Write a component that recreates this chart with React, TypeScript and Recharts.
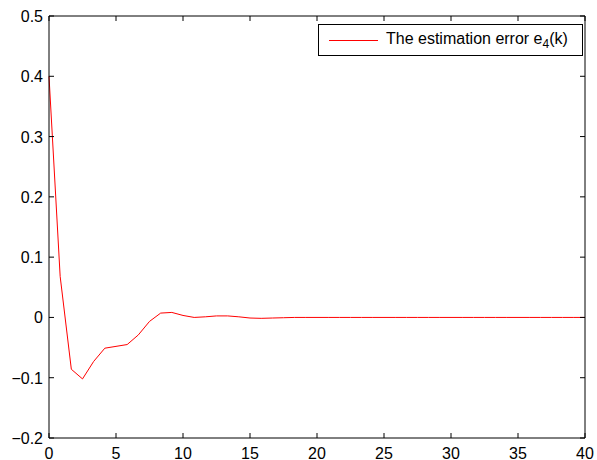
import { Line, LineChart, XAxis, YAxis } from 'recharts'

// sample instants k = 0..48 spread over 0..40
const times = [
  0, 0.833, 1.667, 2.5, 3.333, 4.167, 5, 5.833, 6.667, 7.5, 8.333, 9.167, 10,
  10.833, 11.667, 12.5, 13.333, 14.167, 15, 15.833, 16.667, 17.5, 18.333,
  19.167, 20, 20.833, 21.667, 22.5, 23.333, 24.167, 25, 25.833, 26.667, 27.5,
  28.333, 29.167, 30, 30.833, 31.667, 32.5, 33.333, 34.167, 35, 35.833, 36.667,
  37.5, 38.333, 39.167, 40,
]

// estimation error e4(k)
const errorE4 = [
  0.4, 0.068, -0.086, -0.102, -0.073, -0.051, -0.048, -0.045, -0.029, -0.0066,
  0.0072, 0.0083, 0.0033, 0.0, 0.001, 0.0025, 0.0025, 0.001, -0.001, -0.0015,
  -0.001, -0.0005, 0, 0, 0, 0, 0, 0, 0, 0, 0, 0, 0, 0, 0, 0, 0, 0, 0, 0, 0, 0,
  0, 0, 0, 0, 0, 0, 0,
]

const xTicks = [0, 5, 10, 15, 20, 25, 30, 35, 40]
const yTicks = [-0.2, -0.1, 0, 0.1, 0.2, 0.3, 0.4, 0.5]

const legendLabel = 'The estimation error e'
const legendSub = '4'
const legendTail = '(k)'

const data = times.map((t, i) => ({ t, e: errorE4[i] }))

const FONT = '"Liberation Sans", Arial, Helvetica, sans-serif'
const TICK_LEN = 5

const fmt = (v: number) => (v < 0 ? '\u2212' + Math.abs(v) : String(v))

function BottomTick({ x, y, payload }: any) {
  return (
    <g>
      <line x1={x} x2={x} y1={y} y2={y - TICK_LEN} stroke="#000" />
      <text x={x} y={y + 20.5} textAnchor="middle" fontSize={16} fill="#000">
        {fmt(payload.value)}
      </text>
    </g>
  )
}

function TopTick({ x, y }: any) {
  return <line x1={x} x2={x} y1={y} y2={y + TICK_LEN} stroke="#000" />
}

function LeftTick({ x, y, payload }: any) {
  return (
    <g>
      <line x1={x} x2={x + TICK_LEN} y1={y} y2={y} stroke="#000" />
      <text x={x - 6} y={y + 6} textAnchor="end" fontSize={16} fill="#000">
        {fmt(payload.value)}
      </text>
    </g>
  )
}

function RightTick({ x, y }: any) {
  return <line x1={x} x2={x - TICK_LEN} y1={y} y2={y} stroke="#000" />
}

export default function App() {
  return (
    <div
      style={{
        position: 'absolute',
        left: 0,
        top: 0,
        width: 597,
        height: 460,
        background: '#fff',
        fontFamily: FONT,
      }}
    >
      <LineChart
        width={597}
        height={460}
        data={data}
        margin={{ top: 15, right: 11, bottom: 0, left: 0 }}
      >
        <XAxis
          dataKey="t"
          type="number"
          domain={[0, 40]}
          ticks={xTicks}
          height={22}
          tickSize={0}
          tickMargin={0}
          tickLine={false}
          axisLine={{ stroke: '#000' }}
          tick={<BottomTick />}
          interval={0}
        />
        <XAxis
          xAxisId="top"
          dataKey="t"
          orientation="top"
          type="number"
          domain={[0, 40]}
          ticks={xTicks}
          height={1}
          tickSize={0}
          tickMargin={0}
          tickLine={false}
          axisLine={{ stroke: '#000' }}
          tick={<TopTick />}
          interval={0}
          allowDataOverflow
        />
        <YAxis
          type="number"
          domain={[-0.2, 0.5]}
          ticks={yTicks}
          width={49}
          tickSize={0}
          tickMargin={0}
          tickLine={false}
          axisLine={{ stroke: '#000' }}
          tick={<LeftTick />}
          interval={0}
        />
        <YAxis
          yAxisId="right"
          orientation="right"
          type="number"
          domain={[-0.2, 0.5]}
          ticks={yTicks}
          width={1}
          tickSize={0}
          tickMargin={0}
          tickLine={false}
          axisLine={{ stroke: '#000' }}
          tick={<RightTick />}
          interval={0}
          allowDataOverflow
        />
        <Line
          type="linear"
          dataKey="e"
          stroke="#ff0000"
          strokeWidth={1}
          dot={false}
          activeDot={false}
          isAnimationActive={false}
        />
      </LineChart>

      <div
        style={{
          position: 'absolute',
          left: 318,
          top: 24,
          width: 263,
          height: 30,
          border: '1px solid #000',
          background: '#fff',
          display: 'flex',
          alignItems: 'center',
          fontSize: 16,
          color: '#000',
          whiteSpace: 'nowrap',
        }}
      >
        <span
          style={{
            display: 'inline-block',
            marginLeft: 10,
            width: 49,
            height: 1,
            background: '#ff0000',
          }}
        />
        <span style={{ marginLeft: 8 }}>
          {legendLabel}
          <sub style={{ fontSize: 12, verticalAlign: -4 }}>{legendSub}</sub>
          {legendTail}
        </span>
      </div>
    </div>
  )
}
